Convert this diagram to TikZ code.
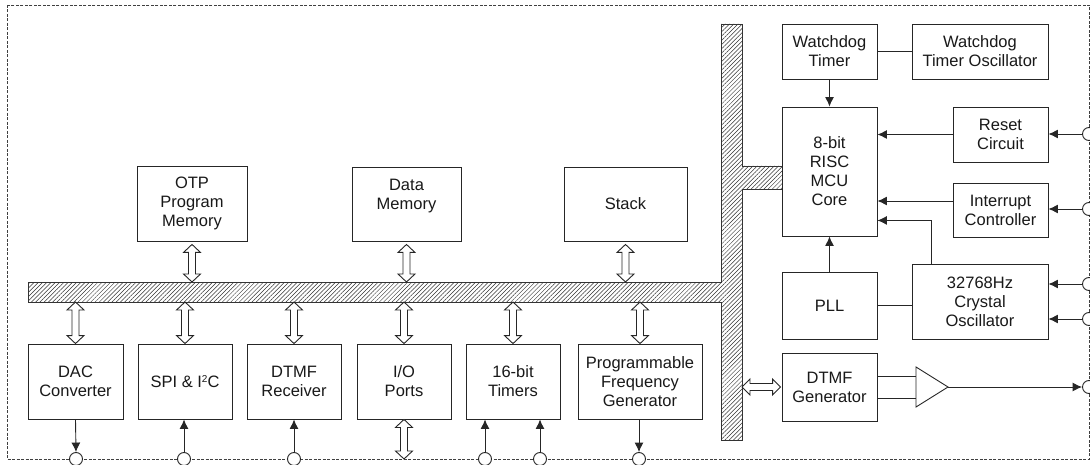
\documentclass[tikz,border=0pt]{standalone}
\usepackage{fontspec}
\setmainfont{Liberation Sans}
\usetikzlibrary{arrows.meta,patterns.meta,calc}
\newcommand\vdarrow[2]{\draw[wire, fill=white] let \p1=(#1), \p2=(#2) in
  (\x1,\y1) -- (\x1+8.5pt,\y1-8pt) -- (\x1+3.5pt,\y1-8pt) -- (\x1+3.5pt,\y2+8pt) -- (\x1+8.5pt,\y2+8pt) -- (\x1,\y2)
  -- (\x1-8.5pt,\y2+8pt) -- (\x1-3.5pt,\y2+8pt) -- (\x1-3.5pt,\y1-8pt) -- (\x1-8.5pt,\y1-8pt) -- cycle;}
\newcommand\hdarrow[2]{\draw[wire, fill=white] let \p1=(#1), \p2=(#2) in
  (\x1,\y1) -- (\x1+8pt,\y1+8pt) -- (\x1+8pt,\y1+3.5pt) -- (\x2-8pt,\y1+3.5pt) -- (\x2-8pt,\y1+8pt) -- (\x2,\y1)
  -- (\x2-8pt,\y1-8pt) -- (\x2-8pt,\y1-3.5pt) -- (\x1+8pt,\y1-3.5pt) -- (\x1+8pt,\y1-8pt) -- cycle;}
\begin{document}
\begin{tikzpicture}[x=1pt,y=-1pt,
  every node/.style={font=\fontsize{16.5}{19}\selectfont, text=black!90},
  blk/.style={draw=black!85, line width=0.9pt, fill=white, align=center, inner sep=0pt},
  wire/.style={draw=black!85, line width=0.9pt},
  arr/.style={wire, -{Latex[length=9.5pt,width=9pt]}},
  pinc/.style={circle, draw=black!85, line width=0.9pt, fill=white, minimum size=13pt, inner sep=0pt},
]
\useasboundingbox (0,0) rectangle (1090,465);
% border
\draw[black!75, line width=0.8pt, dash pattern=on 3pt off 1.5pt] (7,5) rectangle (1089,459);
% bus
\draw[line width=0.8pt, draw=black!80, pattern={Lines[angle=45,distance=3pt,line width=0.5pt]}, pattern color=black!80]
  (28,282) -- (721,282) -- (721,24) -- (742,24) -- (742,166) -- (782,166) -- (782,189) -- (742,189)
  -- (742,440) -- (721,440) -- (721,302) -- (28,302) -- cycle;
\coordinate (busN) at (0,282);
\coordinate (busS) at (0,302);
\coordinate (busE) at (742,387);
% right side blocks
\node[blk, minimum width=95pt, minimum height=55pt] (wdt) at (829.5,51.5) {Watchdog\\Timer};
\node[blk, minimum width=136pt, minimum height=55pt] (wdo) at (980,51.5) {Watchdog\\Timer Oscillator};
\node[blk, minimum width=95pt, minimum height=129pt] (mcu) at (829.5,171.5) {8-bit\\RISC\\MCU\\Core};
\node[blk, minimum width=95pt, minimum height=55pt] (rst) at (1000.5,134.5) {Reset\\Circuit};
\node[blk, minimum width=95pt, minimum height=54pt] (int) at (1000.5,210) {Interrupt\\Controller};
\node[blk, minimum width=95pt, minimum height=67pt] (pll) at (829.5,305.5) {PLL};
\node[blk, minimum width=136pt, minimum height=75pt] (xtal) at (980,301.5) {32768Hz\\Crystal\\Oscillator};
\node[blk, minimum width=95pt, minimum height=68pt] (dtmfg) at (829.5,387) {DTMF\\Generator};
% top blocks
\node[blk, minimum width=110pt, minimum height=75pt] (otp) at (192,203.5) {OTP\\Program\\Memory};
\node[blk, minimum width=109pt, minimum height=74pt] (dmem) at (406.5,204) {Data\\Memory\\~};
\node[blk, minimum width=123pt, minimum height=74pt] (stack) at (625.5,204) {Stack};
% bottom blocks
\node[blk, minimum width=95pt, minimum height=75pt] (dac) at (75.5,381.5) {DAC\\Converter};
\node[blk, minimum width=94pt, minimum height=75pt] (spi) at (185,381.5) {SPI \& I\raisebox{5.5pt}{\fontsize{10}{10}\selectfont 2}C};
\node[blk, minimum width=94pt, minimum height=75pt] (dtmfr) at (294,381.5) {DTMF\\Receiver};
\node[blk, minimum width=94pt, minimum height=75pt] (io) at (404,381.5) {\rule{0pt}{8pt}I/O\\Ports};
\node[blk, minimum width=94pt, minimum height=75pt] (tmr) at (513,381.5) {16-bit\\Timers};
\node[blk, minimum width=124pt, minimum height=75pt] (pfg) at (640,381.5) {Programmable\\Frequency\\Generator};
% bus double arrows
\vdarrow{$(otp.south)+(0,3)$}{otp.south |- busN}
\vdarrow{$(dmem.south)+(0,3)$}{dmem.south |- busN}
\vdarrow{$(stack.south)+(0,3)$}{stack.south |- busN}
\vdarrow{dac.north |- busS}{dac.north}
\vdarrow{spi.north |- busS}{spi.north}
\vdarrow{dtmfr.north |- busS}{dtmfr.north}
\vdarrow{io.north |- busS}{io.north}
\vdarrow{tmr.north |- busS}{tmr.north}
\vdarrow{pfg.north |- busS}{pfg.north}
\hdarrow{busE}{$(dtmfg.west)+(-1,0)$}
% right side connectors
\draw[wire] (wdt.east) -- (wdo.west);
\draw[arr] (wdt.south) -- (mcu.north);
\draw[arr] (rst.west) -- (rst.west -| mcu.east);
\coordinate (intA) at ($(int.west)+(0,-9)$);
\draw[arr] (intA) -- (intA -| mcu.east);
\coordinate (xtA) at ($(xtal.north west)+(20,0)$);
\coordinate (mcuA) at ($(mcu.south east)+(0,-16)$);
\draw[arr] (xtA) |- (mcuA);
\draw[arr] (pll.north) -- (mcu.south);
\draw[wire] (pll.east) -- (pll.east -| xtal.west);
% amplifier
\coordinate (ampA) at (916,367);
\coordinate (ampTip) at (948,387);
\coordinate (ampB) at (916,407);
\draw[wire] (ampA) -- (ampTip) -- (ampB) -- cycle;
\coordinate (g1) at ($(dtmfg.east)+(0,-11)$);
\coordinate (g2) at ($(dtmfg.east)+(0,11)$);
\draw[wire] (g1) -- (g1 -| ampA);
\draw[wire] (g2) -- (g2 -| ampA);
% pins right
\node[pinc] (pR) at (1089,134) {};
\node[pinc] (pI) at (1089,209) {};
\node[pinc] (pX1) at (1089,284) {};
\node[pinc] (pX2) at (1089,319) {};
\node[pinc] (pO) at (1089,387) {};
\draw[arr] (pR.west) -- (pR.west -| rst.east);
\draw[arr] (pI.west) -- (pI.west -| int.east);
\draw[arr] (pX1.west) -- (pX1.west -| xtal.east);
\draw[arr] (pX2.west) -- (pX2.west -| xtal.east);
\draw[arr] (ampTip) -- (pO.west);
% pins bottom
\node[pinc] (pDac) at (76,459) {};
\node[pinc] (pSpi) at (184,459) {};
\node[pinc] (pDr) at (294,459) {};
\node[pinc] (pT1) at (485,459) {};
\node[pinc] (pT2) at (540,459) {};
\node[pinc] (pPf) at (639,459) {};
\coordinate (ioPin) at (404,459);
\draw[arr] (dac.south) -- (pDac.north);
\draw[arr] (pSpi.north) -- (pSpi.north |- spi.south);
\draw[arr] (pDr.north) -- (pDr.north |- dtmfr.south);
\draw[arr] (pT1.north) -- (pT1.north |- tmr.south);
\draw[arr] (pT2.north) -- (pT2.north |- tmr.south);
\draw[arr] (pfg.south -| pPf) -- (pPf.north);
\vdarrow{io.south}{ioPin}
\end{tikzpicture}
\end{document}
